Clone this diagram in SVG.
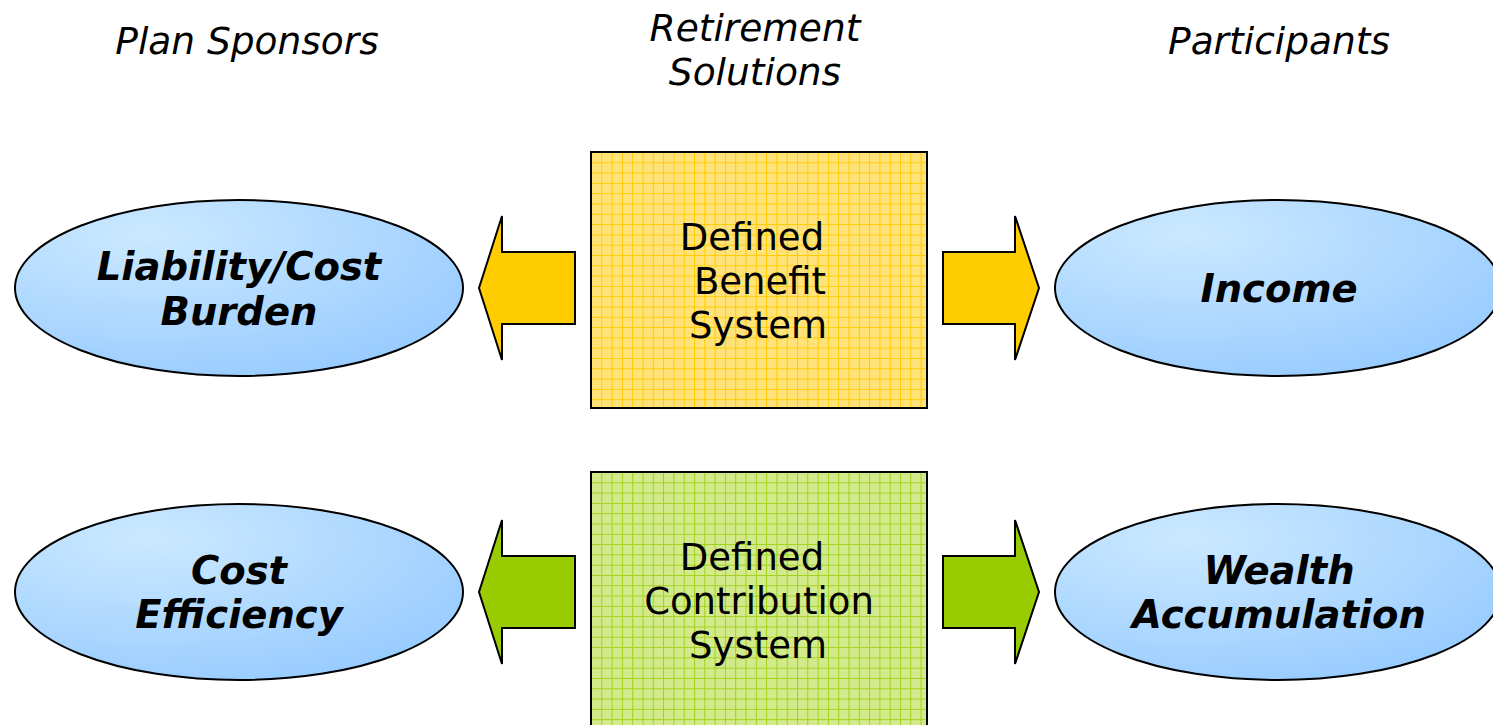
<svg xmlns="http://www.w3.org/2000/svg" width="1493" height="725" viewBox="0 0 1493 725">
<style>
.hdr{font-family:"DejaVu Sans",Verdana,sans-serif;font-style:italic;font-size:37.5px;fill:#000;text-anchor:middle}
.box{font-family:"DejaVu Sans",Verdana,sans-serif;font-size:37px;fill:#000;text-anchor:middle}
.ell{font-family:"DejaVu Sans",Verdana,sans-serif;font-style:italic;font-weight:bold;font-size:38.5px;fill:#000;text-anchor:middle}
.oval{fill:url(#blue);stroke:#000;stroke-width:2}
.ya{fill:#ffcc00;stroke:#000;stroke-width:2;stroke-linejoin:miter}
.ga{fill:#99cc00;stroke:#000;stroke-width:2;stroke-linejoin:miter}
</style>
<defs>
<radialGradient id="blue" cx="0.3" cy="0.2" r="0.85">
<stop offset="0" stop-color="#cce9ff"/>
<stop offset="1" stop-color="#99ccff"/>
</radialGradient>
<pattern id="ygrid" x="591" y="152" width="10.3" height="10.3" patternUnits="userSpaceOnUse">
<rect width="10.3" height="10.3" fill="#ffe27a"/>
<path d="M0 0.5H10.3M0.5 0V10.3" stroke="#ffcc00" stroke-width="1"/>
</pattern>
<pattern id="ggrid" x="591" y="472" width="10.3" height="10.3" patternUnits="userSpaceOnUse">
<rect width="10.3" height="10.3" fill="#d2ea8c"/>
<path d="M0 0.5H10.3M0.5 0V10.3" stroke="#a3d11a" stroke-width="1"/>
</pattern>
</defs>
<rect width="1493" height="725" fill="#fff"/>
<g id="headers">
<text class="hdr" x="247" y="54">Plan Sponsors</text>
<text class="hdr" x="755" y="41">Retirement</text>
<text class="hdr" x="755" y="85">Solutions</text>
<text class="hdr" x="1279" y="54">Participants</text>
</g>
<g id="db-box">
<rect x="591" y="152" width="336" height="256" fill="url(#ygrid)" stroke="#000" stroke-width="2"/>
<text class="box" x="752" y="250">Defined</text>
<text class="box" x="760" y="294">Benefit</text>
<text class="box" x="758" y="338">System</text>
</g>
<g id="dc-box">
<rect x="591" y="472" width="336" height="260" fill="url(#ggrid)" stroke="#000" stroke-width="2"/>
<text class="box" x="752" y="570">Defined</text>
<text class="box" x="759" y="614">Contribution</text>
<text class="box" x="758" y="658">System</text>
</g>
<g id="liability">
<ellipse class="oval" cx="239" cy="288" rx="224" ry="88"/>
<text class="ell" x="239" y="280">Liability/Cost</text>
<text class="ell" x="239" y="325">Burden</text>
</g>
<g id="income">
<ellipse class="oval" cx="1278" cy="288" rx="223" ry="88"/>
<text class="ell" x="1279" y="302">Income</text>
</g>
<g id="cost-eff">
<ellipse class="oval" cx="239" cy="592" rx="224" ry="88"/>
<text class="ell" x="239" y="584">Cost</text>
<text class="ell" x="239" y="628">Efficiency</text>
</g>
<g id="wealth">
<ellipse class="oval" cx="1278" cy="592" rx="223" ry="88"/>
<text class="ell" x="1279" y="584">Wealth</text>
<text class="ell" x="1279" y="628">Accumulation</text>
</g>
<g id="connectors">
<path class="ya" d="M575 252H502V216L479 288L502 360V324H575Z"/>
<path class="ya" d="M943 252H1015V216L1039 288L1015 360V324H943Z"/>
<path class="ga" d="M575 556H502V520L479 592L502 664V628H575Z"/>
<path class="ga" d="M943 556H1015V520L1039 592L1015 664V628H943Z"/>
</g>
</svg>
